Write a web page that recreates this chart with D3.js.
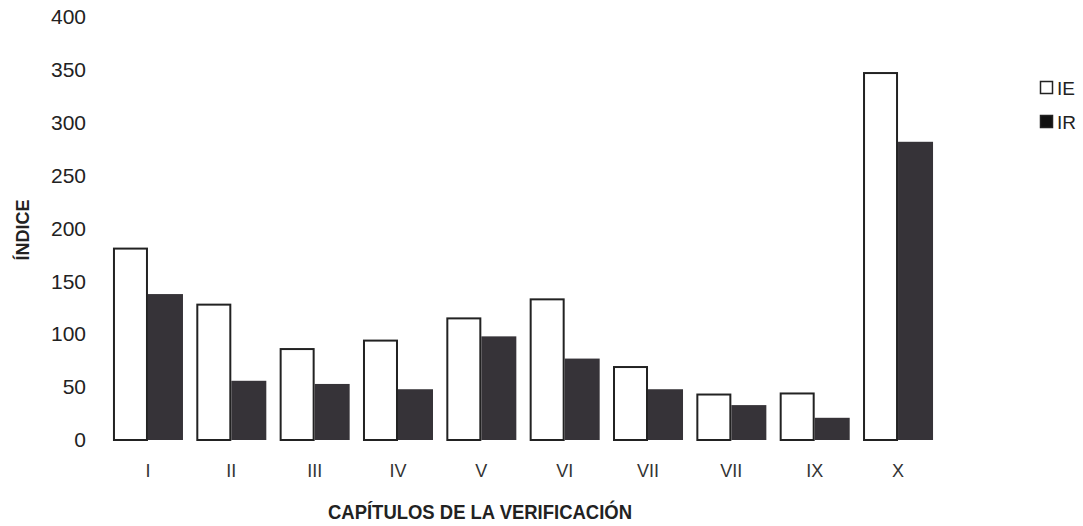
<!DOCTYPE html>
<html>
<head>
<meta charset="utf-8">
<script src="https://cdn.jsdelivr.net/npm/d3@7"></script>
<style>
  html, body { margin: 0; padding: 0; background: #fff; }
  svg { display: block; font-family: "Liberation Sans", Arial, sans-serif; }
</style>
</head>
<body>
<svg id="chart" width="1083" height="526"></svg>
<script>
// Índices por capítulo de la verificación
const chapters = ["I", "II", "III", "IV", "V", "VI", "VII", "VII", "IX", "X"];
const seriesNames = ["IE", "IR"];
const ieValues = [181, 128, 86, 94, 115, 133, 69, 43, 44, 347];
const irValues = [138, 56, 53, 48, 98, 77, 48, 33, 21, 282];
const yTicks = [0, 50, 100, 150, 200, 250, 300, 350, 400];

const colors = { IE: "#ffffff", IR: "#363338" };

const svg = d3.select("#chart");

const x0 = d3.scaleBand()
  .domain(d3.range(chapters.length))
  .range([106.3, 939.7])
  .paddingInner(0.16)
  .paddingOuter(0.08);

const x1 = d3.scaleBand()
  .domain(seriesNames)
  .range([0, x0.bandwidth()]);

const y = d3.scaleLinear().domain([0, 400]).range([440, 17]);

const rows = chapters.map((c, i) => ({ i, IE: ieValues[i], IR: irValues[i] }));

// bars
const groups = svg.append("g").selectAll("g")
  .data(rows)
  .join("g")
  .attr("transform", d => `translate(${x0(d.i)},0)`);

groups.selectAll("rect")
  .data(d => seriesNames.map(k => ({ key: k, value: d[k] })))
  .join("rect")
  .attr("x", d => x1(d.key) + (d.key === "IE" ? 1 : 0))
  .attr("y", d => y(d.value))
  .attr("width", d => x1.bandwidth() - (d.key === "IE" ? 2 : 0))
  .attr("height", d => y(0) - y(d.value))
  .attr("fill", d => colors[d.key])
  .attr("stroke", d => d.key === "IE" ? "#222" : "none")
  .attr("stroke-width", 2);

// y axis
const yAxis = svg.append("g")
  .attr("transform", "translate(89,0)")
  .call(d3.axisLeft(y).tickValues(yTicks).tickSize(0).tickPadding(3));
yAxis.select(".domain").remove();
yAxis.selectAll("text")
  .attr("font-size", 21)
  .attr("fill", "#222")
  .attr("font-family", "'Liberation Sans', Arial, sans-serif");

// x axis
const xAxis = svg.append("g")
  .attr("transform", "translate(0,440)")
  .call(d3.axisBottom(x0).tickSize(0).tickPadding(24).tickFormat(i => chapters[i]));
xAxis.select(".domain").remove();
xAxis.selectAll("text")
  .attr("font-size", 18)
  .attr("fill", "#333")
  .attr("font-family", "'Liberation Sans', Arial, sans-serif");

// axis titles
svg.append("text")
  .attr("x", 480)
  .attr("y", 519)
  .attr("text-anchor", "middle")
  .attr("font-size", 20)
  .attr("font-weight", "bold")
  .attr("fill", "#222")
  .attr("textLength", 304)
  .attr("lengthAdjust", "spacingAndGlyphs")
  .text("CAPÍTULOS DE LA VERIFICACIÓN");

svg.append("text")
  .attr("transform", "translate(29,230) rotate(-90)")
  .attr("text-anchor", "middle")
  .attr("font-size", 18)
  .attr("font-weight", "bold")
  .attr("fill", "#222")
  .text("ÍNDICE");

// legend
const legend = svg.append("g").attr("transform", "translate(1040,81)");
const items = legend.selectAll("g")
  .data(seriesNames)
  .join("g")
  .attr("transform", (d, i) => `translate(0,${i * 34})`);
items.append("rect")
  .attr("x", 0.5).attr("y", 0.5)
  .attr("width", 12).attr("height", 12)
  .attr("fill", d => d === "IE" ? "#fff" : "#111")
  .attr("stroke", "#222")
  .attr("stroke-width", 1.5);
items.append("text")
  .attr("x", 17)
  .attr("y", 13.5)
  .attr("font-size", 19)
  .attr("fill", "#222")
  .text(d => d);
</script>
</body>
</html>
